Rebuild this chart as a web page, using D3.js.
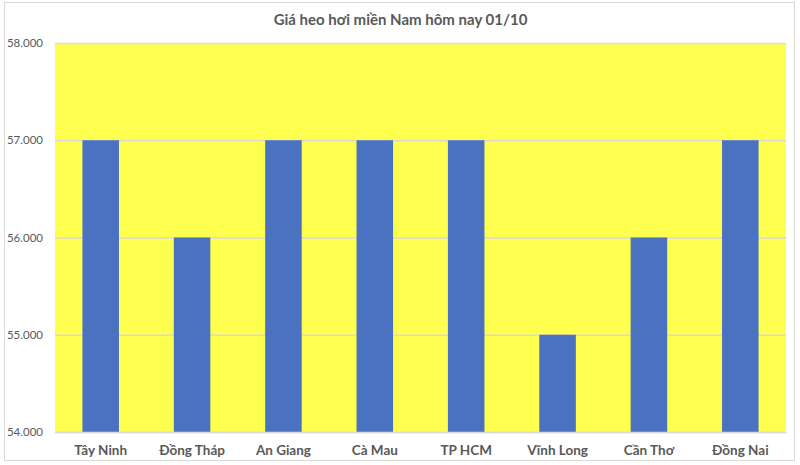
<!DOCTYPE html>
<html><head><meta charset="utf-8">
<script src="https://cdn.jsdelivr.net/npm/d3@7"></script>
<style>html,body{margin:0;padding:0;background:#fff;}svg{display:block;}</style>
</head><body>
<svg id="c" width="800" height="465"></svg>
<script>
const categories = ["Tây Ninh","Đồng Tháp","An Giang","Cà Mau","TP HCM","Vĩnh Long","Cần Thơ","Đồng Nai"];
const prices = [57000,56000,57000,57000,57000,55000,56000,57000];
const yTicks = [54000,55000,56000,57000,58000];
const title = "Giá heo hơi miền Nam hôm nay 01/10";

const svg = d3.select("#c");
const W = 800, H = 465;
const m = {left:55, right:14, top:43, bottom:33};
const FONT = "Lato, 'Open Sans', sans-serif";

svg.append("rect").attr("width",W).attr("height",H).attr("fill","#fff");
svg.append("rect").attr("x",4.5).attr("y",2.5).attr("width",790).attr("height",458)
  .attr("fill","#fff").attr("stroke","#d9d9d9").attr("stroke-width",1);

const x = d3.scaleBand().domain(categories).range([m.left, W-m.right]).paddingInner(0.6).paddingOuter(0.3);
const y = d3.scaleLinear().domain([54000,58000]).range([H-m.bottom, m.top]);

svg.append("rect").attr("x",m.left).attr("y",m.top).attr("width",W-m.right-m.left).attr("height",H-m.bottom-m.top).attr("fill","#ffff4f");

const yAxis = d3.axisLeft(y).tickValues(yTicks).tickSize(-(W-m.right-m.left)).tickFormat(d=> (d/1000).toFixed(3));
const gy = svg.append("g").attr("transform",`translate(${m.left},0)`).call(yAxis);
gy.select(".domain").remove();
gy.selectAll(".tick line").attr("stroke","#d9d9d9").attr("stroke-width",1.5);
gy.selectAll(".tick text").attr("x",-12).attr("fill","#595959").style("font-family",FONT).style("font-size","11.5px");

svg.append("g").selectAll("rect").data(prices).join("rect")
  .attr("x",(d,i)=>x(categories[i])).attr("width",x.bandwidth())
  .attr("y",d=>y(d)).attr("height",d=>y(54000)-y(d))
  .attr("fill","#4a72c0");

const xAxis = d3.axisBottom(x).tickSize(0).tickSizeOuter(0);
const gx = svg.append("g").attr("transform",`translate(0,${H-m.bottom})`).call(xAxis);
gx.select(".domain").attr("stroke","#d9d9d9").attr("stroke-width",1.5);
gx.selectAll(".tick text").attr("dy","0").attr("y",23).attr("fill","#595959")
  .style("font-family",FONT).style("font-size","13.5px").style("font-weight","bold");

svg.append("text").attr("x",(m.left+W-m.right)/2 - 20).attr("y",25).attr("text-anchor","middle")
  .attr("fill","#595959").style("font-family",FONT).style("font-size","15px").style("font-weight","bold").text(title);
</script>
</body></html>
